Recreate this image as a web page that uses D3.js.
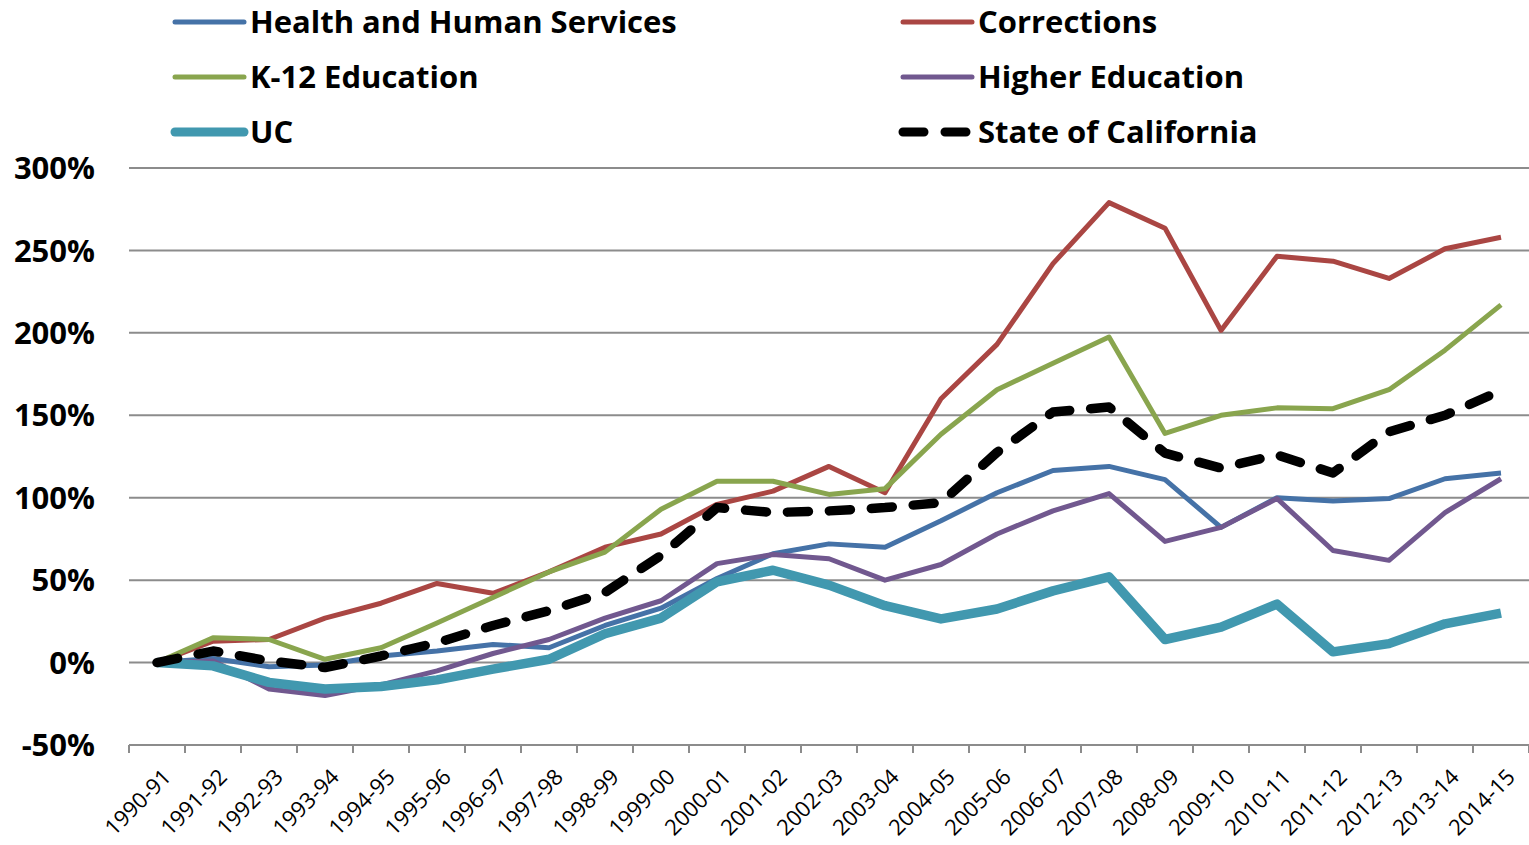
<!DOCTYPE html>
<html>
<head>
<meta charset="utf-8">
<script src="https://cdn.jsdelivr.net/npm/d3@7"></script>
<style>
  body { margin: 0; background: #fff; }
  svg { display: block; }
</style>
</head>
<body>
<div id="vis"></div>
<script>
// fiscal years on the x axis
var years = ["1990-91","1991-92","1992-93","1993-94","1994-95","1995-96","1996-97","1997-98",
  "1998-99","1999-00","2000-01","2001-02","2002-03","2003-04","2004-05","2005-06","2006-07",
  "2007-08","2008-09","2009-10","2010-11","2011-12","2012-13","2013-14","2014-15"];

// percent change since 1990-91
var hhs = [0,2.5,-2.5,-1.5,4,7,11,9,22.5,33,51,66,72,70,86,103,116.5,119,111,82,100,98,99.5,111.5,115];
var corrections = [0,13,14,27,36,48,42,55,70,78,96,104,119,103,160,193,242,279,263.5,201.5,246.5,243.5,233,251,258];
var k12 = [0,15,14,2,9,24,39.5,55,67,93,110,110,102,105.5,138.5,165.5,181.5,197.5,139,150,154.5,154,165.5,189.5,217];
var higherEd = [0,1,-16,-20,-13.5,-5,5.5,14,27,37.5,60,65.5,63,50,59.5,78,92,102.5,73.5,82,99.5,68,62,91,111.5];
var uc = [0,-2,-12,-16,-14.5,-10.5,-4,2,17.5,27,49,56,47,34.5,26.5,32.5,43.5,52,14,21.5,35.5,6.5,11.5,23.5,30];
var stateCA = [0,7,1,-3,4,12,22.5,31.5,42.5,65,94,91,92,94,97,127.5,152,155,127,118,126,115,140,150,165];

var yTicks = [-50,0,50,100,150,200,250,300];

var series = [
  { name: "Health and Human Services", values: hhs, color: "#4572A7", width: 5, dash: null, col: 0, row: 0 },
  { name: "Corrections", values: corrections, color: "#AA4643", width: 5, dash: null, col: 1, row: 0 },
  { name: "K-12 Education", values: k12, color: "#89A54E", width: 5, dash: null, col: 0, row: 1 },
  { name: "Higher Education", values: higherEd, color: "#71588F", width: 5, dash: null, col: 1, row: 1 },
  { name: "UC", values: uc, color: "#4198AF", width: 9.5, dash: null, col: 0, row: 2 },
  { name: "State of California", values: stateCA, color: "#000000", width: 9.5, dash: "21,21", col: 1, row: 2 }
];

var W = 1529, H = 845;
var font = `"Open Sans", "Noto Sans", "DejaVu Sans", sans-serif`;
var gridColor = "#8c8c8c";

var svg = d3.select("#vis").append("svg")
  .attr("width", W).attr("height", H)
  .style("font-family", font);

var plotLeft = 129, plotRight = 1529, plotTop = 168, plotBottom = 745;

var x = d3.scaleBand().domain(years).range([plotLeft, plotRight]);
var y = d3.scaleLinear().domain([-50, 300]).range([plotBottom, plotTop]);

// gridlines
svg.append("g")
  .selectAll("line")
  .data(yTicks.filter(d => d !== -50))
  .join("line")
  .attr("x1", plotLeft).attr("x2", plotRight)
  .attr("y1", d => y(d)).attr("y2", d => y(d))
  .attr("stroke", gridColor).attr("stroke-width", 2);

// y axis labels
svg.append("g")
  .selectAll("text")
  .data(yTicks)
  .join("text")
  .attr("x", 95)
  .attr("y", d => y(d))
  .attr("dy", "0.36em")
  .attr("text-anchor", "end")
  .style("font-size", "31px")
  .style("font-weight", "bold")
  .attr("fill", "#000")
  .text(d => d + "%");

// x axis
var xAxis = svg.append("g")
  .attr("transform", "translate(0," + plotBottom + ")");
xAxis.append("line")
  .attr("x1", plotLeft).attr("x2", plotRight)
  .attr("stroke", gridColor).attr("stroke-width", 2);
xAxis.selectAll("line.tick")
  .data(years.concat(["end"]))
  .join("line")
  .attr("class", "tick")
  .attr("x1", (d, i) => plotLeft + i * x.bandwidth())
  .attr("x2", (d, i) => plotLeft + i * x.bandwidth())
  .attr("y1", 0).attr("y2", 8)
  .attr("stroke", gridColor).attr("stroke-width", 2);
xAxis.selectAll("text")
  .data(years)
  .join("text")
  .attr("transform", d => "translate(" + (x(d) + x.bandwidth() / 2 + 10) + ",28) rotate(-45)")
  .attr("text-anchor", "end")
  .attr("dy", "0.35em")
  .style("font-size", "22px")
  .attr("fill", "#000")
  .text(d => d);

// lines
var line = d3.line()
  .x((d, i) => x(years[i]) + x.bandwidth() / 2)
  .y(d => y(d));

svg.append("g")
  .selectAll("path")
  .data(series)
  .join("path")
  .attr("d", d => line(d.values))
  .attr("fill", "none")
  .attr("stroke", d => d.color)
  .attr("stroke-width", d => d.width)
  .attr("stroke-dasharray", d => d.dash)
  .attr("stroke-linecap", d => d.dash ? "round" : "butt")
  .attr("stroke-linejoin", "round");

// legend
var legend = svg.append("g")
  .selectAll("g")
  .data(series)
  .join("g")
  .attr("transform", d => "translate(" + (d.col === 0 ? 175 : 903) + "," + (22 + d.row * 55) + ")");
legend.append("line")
  .attr("x1", 0).attr("x2", d => d.dash ? 63 : 69)
  .attr("stroke", d => d.color)
  .attr("stroke-width", d => d.width > 9 ? 9 : 5)
  .attr("stroke-linecap", "round")
  .attr("stroke-dasharray", d => d.dash);
legend.append("text")
  .attr("x", 75)
  .attr("dy", "0.36em")
  .style("font-size", "31px")
  .style("font-weight", "bold")
  .attr("fill", "#000")
  .text(d => d.name);
</script>
</body>
</html>
